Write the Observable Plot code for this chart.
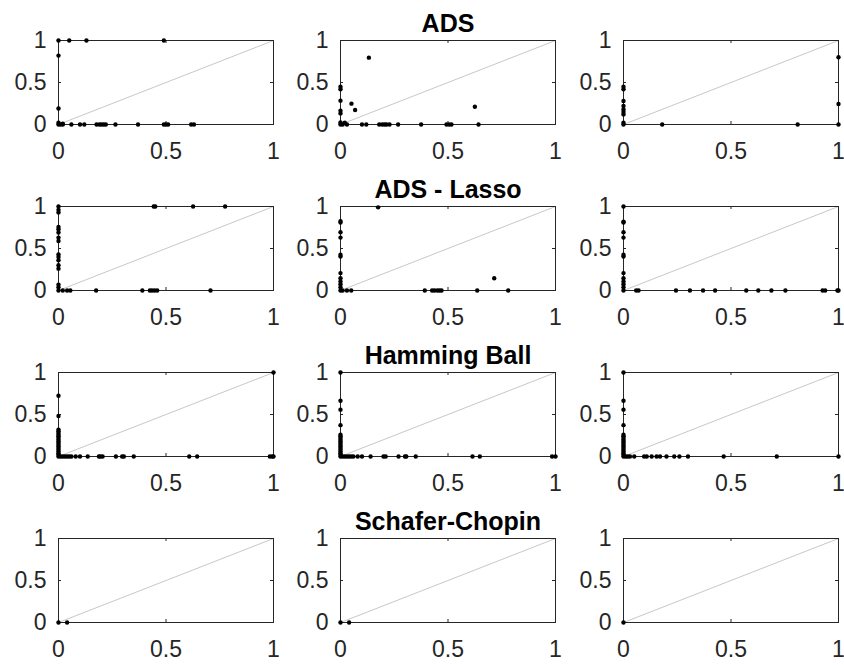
<!DOCTYPE html>
<html><head><meta charset="utf-8">
<script src="https://cdn.jsdelivr.net/npm/d3@7"></script>
<script src="https://cdn.jsdelivr.net/npm/@observablehq/plot@0.6"></script>
<style>
body{margin:0;background:#fff;}
#chart{position:relative;width:844px;height:665px;background:#fff;overflow:hidden;font-family:"Liberation Sans",Arial,sans-serif;}
#chart .panel{position:absolute;}
</style></head><body><div id="chart"></div>
<script>
// ---- data ----
const rowTitles = ["ADS", "ADS - Lasso", "Hamming Ball", "Schafer-Chopin"];
const xTicks = [0, 0.5, 1];
const xTickLabels = ["0", "0.5", "1"];
const yTicks = [0, 0.5, 1];
const yTickLabels = ["0", "0.5", "1"];
const diagonal = [0, 1];

const adsA = [[0,1],[0.05,1],[0.13,1],[0.49,1],[0,0.82],[0,0.19],[0,0.02],[0.02,0.01],
  [0,0],[0.01,0],[0.02,0],[0.06,0],[0.1,0],[0.12,0],[0.177,0],[0.19,0],[0.2,0],[0.21,0],[0.22,0],
  [0.265,0],[0.37,0],[0.49,0],[0.5,0],[0.51,0],[0.617,0],[0.63,0]];
const adsB = [[0.132,0.796],[0.051,0.248],[0.068,0.172],[0.625,0.212],
  [0,0.45],[0,0.42],[0,0.284],[0,0.164],[0,0.132],[0,0.024],[0.02,0.02],
  [0,0],[0.01,0],[0.03,0],[0.1,0],[0.12,0],[0.18,0],[0.194,0],[0.205,0],[0.214,0],[0.228,0],
  [0.268,0],[0.375,0],[0.493,0],[0.505,0],[0.516,0],[0.642,0]];
const adsC = [[0,0.45],[0,0.42],[0,0.28],[0,0.22],[0,0.18],[0,0.15],[0,0.12],[0,0.02],[0,0],
  [0.18,0],[0.81,0],[1,0],[1,0.8],[1,0.244]];

const lassoA = [[0,1],[0,0.96],[0,0.93],[0,0.756],[0,0.73],[0,0.69],[0,0.63],[0,0.59],[0,0.43],[0,0.4],
  [0,0.36],[0,0.3],[0,0.26],[0,0.07],[0,0.04],
  [0.443,1],[0.45,1],[0.626,1],[0.775,1],
  [0,0],[0.02,0],[0.04,0],[0.055,0],[0.175,0],[0.39,0],[0.425,0],[0.435,0],[0.447,0],[0.459,0],[0.707,0]];
const lassoB = [[0.175,0.99],[0.715,0.145],
  [0,0.826],[0,0.81],[0,0.694],[0,0.63],[0,0.426],[0,0.405],[0,0.207],[0,0.145],[0,0.107],[0,0.074],[0,0.04],
  [0,0],[0.01,0],[0.03,0],[0.05,0],[0.392,0],[0.426,0],[0.437,0],[0.45,0],[0.46,0],[0.47,0],[0.636,0],[0.78,0]];
const lassoC = [[0,1],[0,0.82],[0,0.81],[0,0.694],[0,0.63],[0,0.426],[0,0.405],[0,0.207],[0,0.145],[0,0.107],[0,0.074],[0,0.04],
  [0,0],[0.059,0],[0.07,0],[0.244,0],[0.309,0],[0.37,0],[0.426,0],[0.571,0],[0.627,0],[0.688,0],[0.753,0],
  [0.926,0],[0.938,0],[0.995,0],[1,0]];

const hamA = [[1,1],
  [0,0.723],[0,0.482],[0,0.32],[0,0.3],[0,0.28],[0,0.26],[0,0.24],[0,0.22],[0,0.2],[0,0.18],[0,0.16],
  [0,0.14],[0,0.12],[0,0.1],[0,0.08],[0,0.06],[0,0.04],[0,0.02],
  [0,0],[0.01,0],[0.02,0],[0.03,0],[0.04,0],[0.05,0],[0.06,0],[0.08,0],[0.1,0],[0.136,0],[0.188,0],
  [0.195,0],[0.205,0],[0.267,0],[0.296,0],[0.304,0],[0.35,0],[0.608,0],[0.645,0],[0.983,0],[0.994,0],[1,0]];
const hamB = [[0,1],
  [0,0.663],[0,0.558],[0,0.373],[0,0.26],[0,0.24],[0,0.22],[0,0.2],[0,0.18],[0,0.16],[0,0.14],[0,0.12],
  [0,0.1],[0,0.08],[0,0.06],[0,0.04],[0,0.02],
  [0,0],[0.01,0],[0.02,0],[0.03,0],[0.04,0],[0.05,0],[0.06,0],[0.08,0],[0.1,0],[0.14,0],[0.2,0],[0.21,0],
  [0.27,0],[0.3,0],[0.306,0],[0.35,0],[0.614,0],[0.648,0],[0.984,0],[1,0]];
const hamC = [[0,1],
  [0,0.663],[0,0.558],[0,0.373],[0,0.26],[0,0.24],[0,0.22],[0,0.2],[0,0.18],[0,0.16],[0,0.14],[0,0.12],
  [0,0.1],[0,0.08],[0,0.06],[0,0.04],[0,0.02],
  [0,0],[0.01,0],[0.02,0],[0.03,0],[0.05,0],[0.096,0],[0.108,0],[0.131,0],[0.154,0],[0.17,0],[0.2,0],
  [0.236,0],[0.26,0],[0.3,0],[0.466,0],[0.713,0],[1,0]];

const scA = [[0,0],[0.04,0]];
const scB = [[0,0],[0.04,0]];
const scC = [[0,0]];

const panels = [[adsA, adsB, adsC], [lassoA, lassoB, lassoC], [hamA, hamB, hamC], [scA, scB, scC]];

// ---- layout ----
const colLeft = [58, 340, 623];
const rowTop = [40, 206, 372, 538];
const boxW = 215, boxH = 84;
const mL = 58, mT = 40, mR = 6, mB = 44;
const ink = "#262626";
const tickLen = 3;

const chart = document.getElementById("chart");
panels.forEach((row, r) => {
  row.forEach((pts, c) => {
    const marks = [
      Plot.line(diagonal, {x: d => d, y: d => d, stroke: "#c8c8c8", strokeWidth: 1}),
      Plot.frame({stroke: ink, strokeWidth: 1}),
      Plot.tickX(xTicks, {x: d => d, insetTop: boxH - tickLen, stroke: ink}),
      Plot.tickX(xTicks, {x: d => d, insetBottom: boxH - tickLen, stroke: ink}),
      Plot.tickY(yTicks, {y: d => d, insetRight: boxW - tickLen, stroke: ink}),
      Plot.tickY(yTicks, {y: d => d, insetLeft: boxW - tickLen, stroke: ink}),
      Plot.axisX({ticks: xTicks, tickSize: 0, tickPadding: 18, fontSize: 23, fill: ink,
        tickFormat: (d, i) => xTickLabels[xTicks.indexOf(d)], label: null}),
      Plot.axisY({ticks: yTicks, tickSize: 0, tickPadding: 12, fontSize: 23, fill: ink,
        tickFormat: (d, i) => yTickLabels[yTicks.indexOf(d)], label: null}),
      Plot.dot(pts, {x: d => d[0], y: d => d[1], r: 2.2, fill: "#000", stroke: null})
    ];
    if (c === 1) {
      marks.push(Plot.text([rowTitles[r]], {text: d => d, frameAnchor: "top", lineAnchor: "bottom", dy: -9,
        fontSize: 25, fontWeight: "bold", fill: "#000"}));
    }
    const p = Plot.plot({
      width: mL + boxW + mR, height: mT + boxH + mB,
      marginLeft: mL, marginTop: mT, marginRight: mR, marginBottom: mB,
      x: {domain: [0, 1]}, y: {domain: [0, 1]},
      style: {background: "transparent", overflow: "visible", fontFamily: '"Liberation Sans", Arial, sans-serif'},
      marks
    });
    const div = document.createElement("div");
    div.className = "panel";
    div.style.left = (colLeft[c] - mL) + "px";
    div.style.top = (rowTop[r] - mT) + "px";
    div.appendChild(p);
    chart.appendChild(div);
  });
});
</script></body></html>
